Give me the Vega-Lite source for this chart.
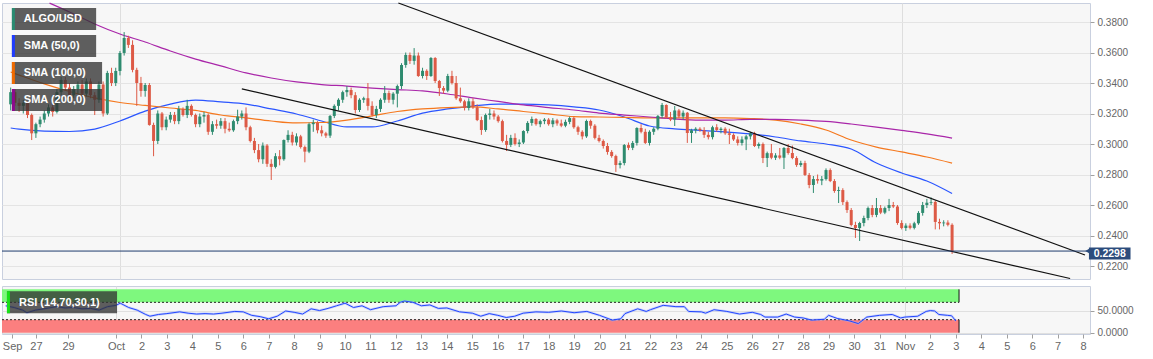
{
"$schema":"https://vega.github.io/schema/vega-lite/v6.json",
"background":"#ffffff",
"padding":0,
"spacing":3,
"config":{"view":{"stroke":"#c9d0df","fill":"#f7f7f7"},"font":"Liberation Sans","axis":{"labelOverlap":false},"concat":{"spacing":3}},
"datasets":{
"candles":[
{"t":"2019-09-26T16:00","o":0.326,"h":0.337,"l":0.322,"c":0.334},
{"t":"2019-09-26T20:00","o":0.334,"h":0.336,"l":0.325,"c":0.327},
{"t":"2019-09-27T00:00","o":0.327,"h":0.33,"l":0.321,"c":0.325},
{"t":"2019-09-27T04:00","o":0.325,"h":0.329,"l":0.32,"c":0.327},
{"t":"2019-09-27T08:00","o":0.327,"h":0.328,"l":0.317,"c":0.319},
{"t":"2019-09-27T12:00","o":0.319,"h":0.32,"l":0.3026,"c":0.307},
{"t":"2019-09-27T16:00","o":0.307,"h":0.314,"l":0.304,"c":0.313},
{"t":"2019-09-27T20:00","o":0.313,"h":0.318,"l":0.311,"c":0.316},
{"t":"2019-09-28T00:00","o":0.316,"h":0.322,"l":0.314,"c":0.32},
{"t":"2019-09-28T04:00","o":0.32,"h":0.326,"l":0.318,"c":0.324},
{"t":"2019-09-28T08:00","o":0.324,"h":0.327,"l":0.318,"c":0.321},
{"t":"2019-09-28T12:00","o":0.321,"h":0.336,"l":0.32,"c":0.334},
{"t":"2019-09-28T16:00","o":0.334,"h":0.344,"l":0.332,"c":0.342},
{"t":"2019-09-28T20:00","o":0.342,"h":0.344,"l":0.335,"c":0.337},
{"t":"2019-09-29T00:00","o":0.337,"h":0.34,"l":0.33,"c":0.332},
{"t":"2019-09-29T04:00","o":0.332,"h":0.338,"l":0.33,"c":0.336},
{"t":"2019-09-29T08:00","o":0.336,"h":0.341,"l":0.333,"c":0.339},
{"t":"2019-09-29T12:00","o":0.339,"h":0.342,"l":0.331,"c":0.333},
{"t":"2019-09-29T16:00","o":0.333,"h":0.343,"l":0.331,"c":0.341},
{"t":"2019-09-29T20:00","o":0.341,"h":0.343,"l":0.33,"c":0.332},
{"t":"2019-09-30T00:00","o":0.332,"h":0.334,"l":0.319,"c":0.329},
{"t":"2019-09-30T04:00","o":0.329,"h":0.341,"l":0.327,"c":0.339},
{"t":"2019-09-30T08:00","o":0.339,"h":0.341,"l":0.318,"c":0.32},
{"t":"2019-09-30T12:00","o":0.32,"h":0.348,"l":0.319,"c":0.3466},
{"t":"2019-09-30T16:00","o":0.3466,"h":0.35,"l":0.338,"c":0.34},
{"t":"2019-09-30T20:00","o":0.34,"h":0.35,"l":0.338,"c":0.3479},
{"t":"2019-10-01T00:00","o":0.3479,"h":0.361,"l":0.345,"c":0.3597},
{"t":"2019-10-01T04:00","o":0.3597,"h":0.3734,"l":0.358,"c":0.3695},
{"t":"2019-10-01T08:00","o":0.3695,"h":0.371,"l":0.363,"c":0.365},
{"t":"2019-10-01T12:00","o":0.365,"h":0.368,"l":0.347,"c":0.3486},
{"t":"2019-10-01T16:00","o":0.3486,"h":0.35,"l":0.325,"c":0.34},
{"t":"2019-10-01T20:00","o":0.34,"h":0.344,"l":0.331,"c":0.3348},
{"t":"2019-10-02T00:00","o":0.3348,"h":0.34,"l":0.331,"c":0.3387},
{"t":"2019-10-02T04:00","o":0.3387,"h":0.34,"l":0.312,"c":0.3125},
{"t":"2019-10-02T08:00","o":0.3125,"h":0.314,"l":0.292,"c":0.302},
{"t":"2019-10-02T12:00","o":0.302,"h":0.322,"l":0.3,"c":0.32},
{"t":"2019-10-02T16:00","o":0.32,"h":0.321,"l":0.309,"c":0.311},
{"t":"2019-10-02T20:00","o":0.311,"h":0.318,"l":0.309,"c":0.316},
{"t":"2019-10-03T00:00","o":0.316,"h":0.321,"l":0.314,"c":0.319},
{"t":"2019-10-03T04:00","o":0.319,"h":0.321,"l":0.313,"c":0.315},
{"t":"2019-10-03T08:00","o":0.315,"h":0.325,"l":0.313,"c":0.323},
{"t":"2019-10-03T12:00","o":0.323,"h":0.324,"l":0.318,"c":0.319},
{"t":"2019-10-03T16:00","o":0.319,"h":0.329,"l":0.317,"c":0.325},
{"t":"2019-10-03T20:00","o":0.325,"h":0.326,"l":0.318,"c":0.319},
{"t":"2019-10-04T00:00","o":0.319,"h":0.32,"l":0.311,"c":0.313},
{"t":"2019-10-04T04:00","o":0.313,"h":0.32,"l":0.311,"c":0.318},
{"t":"2019-10-04T08:00","o":0.318,"h":0.321,"l":0.314,"c":0.319},
{"t":"2019-10-04T12:00","o":0.319,"h":0.32,"l":0.306,"c":0.308},
{"t":"2019-10-04T16:00","o":0.308,"h":0.315,"l":0.306,"c":0.313},
{"t":"2019-10-04T20:00","o":0.313,"h":0.316,"l":0.31,"c":0.312},
{"t":"2019-10-05T00:00","o":0.312,"h":0.317,"l":0.31,"c":0.315},
{"t":"2019-10-05T04:00","o":0.315,"h":0.317,"l":0.307,"c":0.31},
{"t":"2019-10-05T08:00","o":0.31,"h":0.314,"l":0.308,"c":0.309},
{"t":"2019-10-05T12:00","o":0.309,"h":0.316,"l":0.308,"c":0.315},
{"t":"2019-10-05T16:00","o":0.315,"h":0.3225,"l":0.313,"c":0.318},
{"t":"2019-10-05T20:00","o":0.318,"h":0.322,"l":0.316,"c":0.32},
{"t":"2019-10-06T00:00","o":0.32,"h":0.324,"l":0.309,"c":0.311},
{"t":"2019-10-06T04:00","o":0.311,"h":0.312,"l":0.301,"c":0.302},
{"t":"2019-10-06T08:00","o":0.302,"h":0.304,"l":0.294,"c":0.296},
{"t":"2019-10-06T12:00","o":0.296,"h":0.3,"l":0.288,"c":0.29},
{"t":"2019-10-06T16:00","o":0.29,"h":0.301,"l":0.287,"c":0.299},
{"t":"2019-10-06T20:00","o":0.299,"h":0.3,"l":0.285,"c":0.287},
{"t":"2019-10-07T00:00","o":0.287,"h":0.29,"l":0.2764,"c":0.285},
{"t":"2019-10-07T04:00","o":0.285,"h":0.294,"l":0.284,"c":0.292},
{"t":"2019-10-07T08:00","o":0.292,"h":0.296,"l":0.286,"c":0.29},
{"t":"2019-10-07T12:00","o":0.29,"h":0.303,"l":0.289,"c":0.3026},
{"t":"2019-10-07T16:00","o":0.3026,"h":0.309,"l":0.301,"c":0.306},
{"t":"2019-10-07T20:00","o":0.306,"h":0.308,"l":0.299,"c":0.301},
{"t":"2019-10-08T00:00","o":0.301,"h":0.307,"l":0.299,"c":0.305},
{"t":"2019-10-08T04:00","o":0.305,"h":0.306,"l":0.297,"c":0.298},
{"t":"2019-10-08T08:00","o":0.298,"h":0.299,"l":0.288,"c":0.295},
{"t":"2019-10-08T12:00","o":0.295,"h":0.314,"l":0.294,"c":0.313},
{"t":"2019-10-08T16:00","o":0.313,"h":0.316,"l":0.308,"c":0.314},
{"t":"2019-10-08T20:00","o":0.314,"h":0.315,"l":0.307,"c":0.309},
{"t":"2019-10-09T00:00","o":0.309,"h":0.312,"l":0.305,"c":0.307},
{"t":"2019-10-09T04:00","o":0.307,"h":0.308,"l":0.304,"c":0.3055},
{"t":"2019-10-09T08:00","o":0.3055,"h":0.319,"l":0.304,"c":0.3184},
{"t":"2019-10-09T12:00","o":0.3184,"h":0.326,"l":0.317,"c":0.325},
{"t":"2019-10-09T16:00","o":0.325,"h":0.33,"l":0.322,"c":0.329},
{"t":"2019-10-09T20:00","o":0.329,"h":0.335,"l":0.327,"c":0.334},
{"t":"2019-10-10T00:00","o":0.334,"h":0.338,"l":0.331,"c":0.3354},
{"t":"2019-10-10T04:00","o":0.3354,"h":0.337,"l":0.33,"c":0.332},
{"t":"2019-10-10T08:00","o":0.332,"h":0.334,"l":0.32,"c":0.3223},
{"t":"2019-10-10T12:00","o":0.3223,"h":0.33,"l":0.321,"c":0.329},
{"t":"2019-10-10T16:00","o":0.329,"h":0.331,"l":0.327,"c":0.33},
{"t":"2019-10-10T20:00","o":0.33,"h":0.34,"l":0.322,"c":0.325},
{"t":"2019-10-11T00:00","o":0.325,"h":0.328,"l":0.318,"c":0.319},
{"t":"2019-10-11T04:00","o":0.319,"h":0.325,"l":0.317,"c":0.323},
{"t":"2019-10-11T08:00","o":0.323,"h":0.33,"l":0.321,"c":0.329},
{"t":"2019-10-11T12:00","o":0.329,"h":0.338,"l":0.327,"c":0.3334},
{"t":"2019-10-11T16:00","o":0.3334,"h":0.335,"l":0.327,"c":0.329},
{"t":"2019-10-11T20:00","o":0.329,"h":0.334,"l":0.326,"c":0.333},
{"t":"2019-10-12T00:00","o":0.333,"h":0.339,"l":0.324,"c":0.338},
{"t":"2019-10-12T04:00","o":0.338,"h":0.353,"l":0.336,"c":0.3518},
{"t":"2019-10-12T08:00","o":0.3518,"h":0.36,"l":0.35,"c":0.3584},
{"t":"2019-10-12T12:00","o":0.3584,"h":0.36,"l":0.3525,"c":0.3545},
{"t":"2019-10-12T16:00","o":0.3545,"h":0.3629,"l":0.352,"c":0.358},
{"t":"2019-10-12T20:00","o":0.358,"h":0.36,"l":0.344,"c":0.3446},
{"t":"2019-10-13T00:00","o":0.3446,"h":0.35,"l":0.343,"c":0.348},
{"t":"2019-10-13T04:00","o":0.348,"h":0.349,"l":0.342,"c":0.3446},
{"t":"2019-10-13T08:00","o":0.3446,"h":0.357,"l":0.344,"c":0.3564},
{"t":"2019-10-13T12:00","o":0.3564,"h":0.357,"l":0.34,"c":0.3413},
{"t":"2019-10-13T16:00","o":0.3413,"h":0.342,"l":0.3315,"c":0.3367},
{"t":"2019-10-13T20:00","o":0.3367,"h":0.338,"l":0.333,"c":0.335},
{"t":"2019-10-14T00:00","o":0.335,"h":0.346,"l":0.334,"c":0.3446},
{"t":"2019-10-14T04:00","o":0.3446,"h":0.348,"l":0.339,"c":0.34},
{"t":"2019-10-14T08:00","o":0.34,"h":0.3446,"l":0.329,"c":0.33},
{"t":"2019-10-14T12:00","o":0.33,"h":0.337,"l":0.327,"c":0.328},
{"t":"2019-10-14T16:00","o":0.328,"h":0.329,"l":0.322,"c":0.3236},
{"t":"2019-10-14T20:00","o":0.3236,"h":0.33,"l":0.322,"c":0.328},
{"t":"2019-10-15T00:00","o":0.328,"h":0.33,"l":0.323,"c":0.324},
{"t":"2019-10-15T04:00","o":0.324,"h":0.326,"l":0.315,"c":0.3157},
{"t":"2019-10-15T08:00","o":0.3157,"h":0.318,"l":0.306,"c":0.3092},
{"t":"2019-10-15T12:00","o":0.3092,"h":0.32,"l":0.308,"c":0.319},
{"t":"2019-10-15T16:00","o":0.319,"h":0.323,"l":0.316,"c":0.32},
{"t":"2019-10-15T20:00","o":0.32,"h":0.322,"l":0.316,"c":0.318},
{"t":"2019-10-16T00:00","o":0.318,"h":0.319,"l":0.314,"c":0.315},
{"t":"2019-10-16T04:00","o":0.315,"h":0.316,"l":0.301,"c":0.302},
{"t":"2019-10-16T08:00","o":0.302,"h":0.306,"l":0.2954,"c":0.2994},
{"t":"2019-10-16T12:00","o":0.2994,"h":0.306,"l":0.298,"c":0.304},
{"t":"2019-10-16T16:00","o":0.304,"h":0.307,"l":0.299,"c":0.3},
{"t":"2019-10-16T20:00","o":0.3,"h":0.303,"l":0.298,"c":0.301},
{"t":"2019-10-17T00:00","o":0.301,"h":0.309,"l":0.3,"c":0.3085},
{"t":"2019-10-17T04:00","o":0.3085,"h":0.315,"l":0.307,"c":0.3138},
{"t":"2019-10-17T08:00","o":0.3138,"h":0.318,"l":0.312,"c":0.3164},
{"t":"2019-10-17T12:00","o":0.3164,"h":0.317,"l":0.312,"c":0.313},
{"t":"2019-10-17T16:00","o":0.313,"h":0.316,"l":0.311,"c":0.315},
{"t":"2019-10-17T20:00","o":0.315,"h":0.317,"l":0.313,"c":0.316},
{"t":"2019-10-18T00:00","o":0.316,"h":0.317,"l":0.312,"c":0.313},
{"t":"2019-10-18T04:00","o":0.313,"h":0.317,"l":0.311,"c":0.3155},
{"t":"2019-10-18T08:00","o":0.3155,"h":0.3165,"l":0.312,"c":0.3135},
{"t":"2019-10-18T12:00","o":0.3135,"h":0.316,"l":0.311,"c":0.312},
{"t":"2019-10-18T16:00","o":0.312,"h":0.316,"l":0.311,"c":0.3145},
{"t":"2019-10-18T20:00","o":0.3145,"h":0.318,"l":0.313,"c":0.317},
{"t":"2019-10-19T00:00","o":0.317,"h":0.318,"l":0.31,"c":0.311},
{"t":"2019-10-19T04:00","o":0.311,"h":0.312,"l":0.306,"c":0.308},
{"t":"2019-10-19T08:00","o":0.308,"h":0.309,"l":0.303,"c":0.305},
{"t":"2019-10-19T12:00","o":0.305,"h":0.316,"l":0.304,"c":0.3151},
{"t":"2019-10-19T16:00","o":0.3151,"h":0.316,"l":0.31,"c":0.312},
{"t":"2019-10-19T20:00","o":0.312,"h":0.313,"l":0.303,"c":0.304},
{"t":"2019-10-20T00:00","o":0.304,"h":0.306,"l":0.301,"c":0.302},
{"t":"2019-10-20T04:00","o":0.302,"h":0.303,"l":0.297,"c":0.2987},
{"t":"2019-10-20T08:00","o":0.2987,"h":0.3007,"l":0.293,"c":0.2948},
{"t":"2019-10-20T12:00","o":0.2948,"h":0.296,"l":0.291,"c":0.2921},
{"t":"2019-10-20T16:00","o":0.2921,"h":0.293,"l":0.2817,"c":0.2862},
{"t":"2019-10-20T20:00","o":0.2862,"h":0.289,"l":0.284,"c":0.2875},
{"t":"2019-10-21T00:00","o":0.2875,"h":0.3,"l":0.286,"c":0.2993},
{"t":"2019-10-21T04:00","o":0.2993,"h":0.301,"l":0.296,"c":0.2975},
{"t":"2019-10-21T08:00","o":0.2975,"h":0.302,"l":0.296,"c":0.3007},
{"t":"2019-10-21T12:00","o":0.3007,"h":0.311,"l":0.299,"c":0.3105},
{"t":"2019-10-21T16:00","o":0.3105,"h":0.313,"l":0.307,"c":0.308},
{"t":"2019-10-21T20:00","o":0.308,"h":0.31,"l":0.3,"c":0.3007},
{"t":"2019-10-22T00:00","o":0.3007,"h":0.309,"l":0.299,"c":0.308},
{"t":"2019-10-22T04:00","o":0.308,"h":0.311,"l":0.306,"c":0.31},
{"t":"2019-10-22T08:00","o":0.31,"h":0.319,"l":0.309,"c":0.3184},
{"t":"2019-10-22T12:00","o":0.3184,"h":0.3269,"l":0.317,"c":0.3256},
{"t":"2019-10-22T16:00","o":0.3256,"h":0.326,"l":0.3165,"c":0.3175},
{"t":"2019-10-22T20:00","o":0.3175,"h":0.321,"l":0.315,"c":0.316},
{"t":"2019-10-23T00:00","o":0.316,"h":0.3249,"l":0.3118,"c":0.322},
{"t":"2019-10-23T04:00","o":0.322,"h":0.323,"l":0.317,"c":0.318},
{"t":"2019-10-23T08:00","o":0.318,"h":0.322,"l":0.316,"c":0.3205},
{"t":"2019-10-23T12:00","o":0.3205,"h":0.321,"l":0.3007,"c":0.3072},
{"t":"2019-10-23T16:00","o":0.3072,"h":0.31,"l":0.3007,"c":0.309},
{"t":"2019-10-23T20:00","o":0.309,"h":0.311,"l":0.307,"c":0.31},
{"t":"2019-10-24T00:00","o":0.31,"h":0.311,"l":0.308,"c":0.309},
{"t":"2019-10-24T04:00","o":0.309,"h":0.311,"l":0.304,"c":0.306},
{"t":"2019-10-24T08:00","o":0.306,"h":0.308,"l":0.303,"c":0.3045},
{"t":"2019-10-24T12:00","o":0.3045,"h":0.312,"l":0.303,"c":0.311},
{"t":"2019-10-24T16:00","o":0.311,"h":0.313,"l":0.308,"c":0.3092},
{"t":"2019-10-24T20:00","o":0.3092,"h":0.311,"l":0.307,"c":0.31},
{"t":"2019-10-25T00:00","o":0.31,"h":0.311,"l":0.306,"c":0.307},
{"t":"2019-10-25T04:00","o":0.307,"h":0.31,"l":0.3,"c":0.306},
{"t":"2019-10-25T08:00","o":0.306,"h":0.307,"l":0.302,"c":0.303},
{"t":"2019-10-25T12:00","o":0.303,"h":0.305,"l":0.299,"c":0.3007},
{"t":"2019-10-25T16:00","o":0.3007,"h":0.305,"l":0.299,"c":0.303},
{"t":"2019-10-25T20:00","o":0.303,"h":0.306,"l":0.296,"c":0.305},
{"t":"2019-10-26T00:00","o":0.305,"h":0.308,"l":0.303,"c":0.307},
{"t":"2019-10-26T04:00","o":0.307,"h":0.308,"l":0.298,"c":0.2987},
{"t":"2019-10-26T08:00","o":0.2987,"h":0.301,"l":0.297,"c":0.3},
{"t":"2019-10-26T12:00","o":0.3,"h":0.301,"l":0.2875,"c":0.2908},
{"t":"2019-10-26T16:00","o":0.2908,"h":0.295,"l":0.2849,"c":0.294},
{"t":"2019-10-26T20:00","o":0.294,"h":0.3,"l":0.29,"c":0.291},
{"t":"2019-10-27T00:00","o":0.291,"h":0.294,"l":0.2895,"c":0.2925},
{"t":"2019-10-27T04:00","o":0.2925,"h":0.2974,"l":0.29,"c":0.291},
{"t":"2019-10-27T08:00","o":0.291,"h":0.298,"l":0.2836,"c":0.2974},
{"t":"2019-10-27T12:00","o":0.2974,"h":0.3,"l":0.293,"c":0.2941},
{"t":"2019-10-27T16:00","o":0.2941,"h":0.299,"l":0.29,"c":0.2908},
{"t":"2019-10-27T20:00","o":0.2908,"h":0.292,"l":0.285,"c":0.2862},
{"t":"2019-10-28T00:00","o":0.2862,"h":0.289,"l":0.285,"c":0.2875},
{"t":"2019-10-28T04:00","o":0.2875,"h":0.289,"l":0.279,"c":0.2797},
{"t":"2019-10-28T08:00","o":0.2797,"h":0.281,"l":0.271,"c":0.2731},
{"t":"2019-10-28T12:00","o":0.2731,"h":0.279,"l":0.2679,"c":0.277},
{"t":"2019-10-28T16:00","o":0.277,"h":0.28,"l":0.274,"c":0.276},
{"t":"2019-10-28T20:00","o":0.276,"h":0.279,"l":0.273,"c":0.277},
{"t":"2019-10-29T00:00","o":0.277,"h":0.284,"l":0.276,"c":0.2829},
{"t":"2019-10-29T04:00","o":0.2829,"h":0.284,"l":0.275,"c":0.2757},
{"t":"2019-10-29T08:00","o":0.2757,"h":0.277,"l":0.268,"c":0.2692},
{"t":"2019-10-29T12:00","o":0.2692,"h":0.272,"l":0.2613,"c":0.2698},
{"t":"2019-10-29T16:00","o":0.2698,"h":0.271,"l":0.26,"c":0.2619},
{"t":"2019-10-29T20:00","o":0.2619,"h":0.263,"l":0.2548,"c":0.2567},
{"t":"2019-10-30T00:00","o":0.2567,"h":0.258,"l":0.246,"c":0.2469},
{"t":"2019-10-30T04:00","o":0.2469,"h":0.249,"l":0.2384,"c":0.2449},
{"t":"2019-10-30T08:00","o":0.2449,"h":0.249,"l":0.2364,"c":0.2482},
{"t":"2019-10-30T12:00","o":0.2482,"h":0.253,"l":0.246,"c":0.2515},
{"t":"2019-10-30T16:00","o":0.2515,"h":0.259,"l":0.25,"c":0.258},
{"t":"2019-10-30T20:00","o":0.258,"h":0.26,"l":0.252,"c":0.2535},
{"t":"2019-10-31T00:00","o":0.2535,"h":0.2646,"l":0.252,"c":0.258},
{"t":"2019-10-31T04:00","o":0.258,"h":0.26,"l":0.254,"c":0.255},
{"t":"2019-10-31T08:00","o":0.255,"h":0.259,"l":0.254,"c":0.258},
{"t":"2019-10-31T12:00","o":0.258,"h":0.264,"l":0.256,"c":0.26},
{"t":"2019-10-31T16:00","o":0.26,"h":0.262,"l":0.258,"c":0.259},
{"t":"2019-10-31T20:00","o":0.259,"h":0.26,"l":0.247,"c":0.2482},
{"t":"2019-11-01T00:00","o":0.2482,"h":0.25,"l":0.244,"c":0.2449},
{"t":"2019-11-01T04:00","o":0.2449,"h":0.248,"l":0.243,"c":0.2465},
{"t":"2019-11-01T08:00","o":0.2465,"h":0.248,"l":0.244,"c":0.245},
{"t":"2019-11-01T12:00","o":0.245,"h":0.249,"l":0.244,"c":0.248},
{"t":"2019-11-01T16:00","o":0.248,"h":0.256,"l":0.247,"c":0.2548},
{"t":"2019-11-01T20:00","o":0.2548,"h":0.262,"l":0.253,"c":0.26},
{"t":"2019-11-02T00:00","o":0.26,"h":0.264,"l":0.258,"c":0.2615},
{"t":"2019-11-02T04:00","o":0.2615,"h":0.265,"l":0.26,"c":0.262},
{"t":"2019-11-02T08:00","o":0.262,"h":0.263,"l":0.244,"c":0.2489},
{"t":"2019-11-02T12:00","o":0.2489,"h":0.251,"l":0.244,"c":0.248},
{"t":"2019-11-02T16:00","o":0.248,"h":0.25,"l":0.246,"c":0.2485},
{"t":"2019-11-02T20:00","o":0.2485,"h":0.25,"l":0.246,"c":0.247},
{"t":"2019-11-03T00:00","o":0.247,"h":0.248,"l":0.2279,"c":0.2298}
],
"sma":[
{"s":"SMA (50,0)","t":"2019-09-26T16:00","v":0.3105},
{"s":"SMA (50,0)","t":"2019-09-27T00:00","v":0.3098},
{"s":"SMA (50,0)","t":"2019-09-28T00:00","v":0.3085},
{"s":"SMA (50,0)","t":"2019-09-29T00:00","v":0.3082},
{"s":"SMA (50,0)","t":"2019-09-30T00:00","v":0.3098},
{"s":"SMA (50,0)","t":"2019-10-01T00:00","v":0.3151},
{"s":"SMA (50,0)","t":"2019-10-02T00:00","v":0.3216},
{"s":"SMA (50,0)","t":"2019-10-03T00:00","v":0.3262},
{"s":"SMA (50,0)","t":"2019-10-04T00:00","v":0.3288},
{"s":"SMA (50,0)","t":"2019-10-05T00:00","v":0.3276},
{"s":"SMA (50,0)","t":"2019-10-06T00:00","v":0.3262},
{"s":"SMA (50,0)","t":"2019-10-07T00:00","v":0.323},
{"s":"SMA (50,0)","t":"2019-10-08T00:00","v":0.3197},
{"s":"SMA (50,0)","t":"2019-10-09T00:00","v":0.3151},
{"s":"SMA (50,0)","t":"2019-10-10T00:00","v":0.3112},
{"s":"SMA (50,0)","t":"2019-10-11T00:00","v":0.3112},
{"s":"SMA (50,0)","t":"2019-10-12T00:00","v":0.3151},
{"s":"SMA (50,0)","t":"2019-10-13T00:00","v":0.3203},
{"s":"SMA (50,0)","t":"2019-10-14T00:00","v":0.323},
{"s":"SMA (50,0)","t":"2019-10-15T00:00","v":0.3249},
{"s":"SMA (50,0)","t":"2019-10-16T00:00","v":0.3262},
{"s":"SMA (50,0)","t":"2019-10-17T00:00","v":0.3262},
{"s":"SMA (50,0)","t":"2019-10-18T00:00","v":0.3256},
{"s":"SMA (50,0)","t":"2019-10-19T00:00","v":0.3243},
{"s":"SMA (50,0)","t":"2019-10-20T00:00","v":0.3223},
{"s":"SMA (50,0)","t":"2019-10-21T00:00","v":0.3177},
{"s":"SMA (50,0)","t":"2019-10-22T00:00","v":0.3118},
{"s":"SMA (50,0)","t":"2019-10-23T00:00","v":0.3099},
{"s":"SMA (50,0)","t":"2019-10-24T00:00","v":0.3089},
{"s":"SMA (50,0)","t":"2019-10-25T00:00","v":0.3079},
{"s":"SMA (50,0)","t":"2019-10-26T00:00","v":0.3066},
{"s":"SMA (50,0)","t":"2019-10-27T00:00","v":0.3046},
{"s":"SMA (50,0)","t":"2019-10-28T00:00","v":0.302},
{"s":"SMA (50,0)","t":"2019-10-29T00:00","v":0.3},
{"s":"SMA (50,0)","t":"2019-10-30T00:00","v":0.2967},
{"s":"SMA (50,0)","t":"2019-10-31T00:00","v":0.2875},
{"s":"SMA (50,0)","t":"2019-11-01T00:00","v":0.281},
{"s":"SMA (50,0)","t":"2019-11-02T00:00","v":0.2757},
{"s":"SMA (50,0)","t":"2019-11-03T00:00","v":0.2675},
{"s":"SMA (100,0)","t":"2019-09-26T16:00","v":0.3472},
{"s":"SMA (100,0)","t":"2019-09-27T00:00","v":0.3452},
{"s":"SMA (100,0)","t":"2019-09-28T00:00","v":0.3394},
{"s":"SMA (100,0)","t":"2019-09-29T00:00","v":0.3344},
{"s":"SMA (100,0)","t":"2019-09-30T00:00","v":0.3302},
{"s":"SMA (100,0)","t":"2019-10-01T00:00","v":0.3272},
{"s":"SMA (100,0)","t":"2019-10-02T00:00","v":0.3253},
{"s":"SMA (100,0)","t":"2019-10-03T00:00","v":0.3236},
{"s":"SMA (100,0)","t":"2019-10-04T00:00","v":0.322},
{"s":"SMA (100,0)","t":"2019-10-05T00:00","v":0.319},
{"s":"SMA (100,0)","t":"2019-10-06T00:00","v":0.3171},
{"s":"SMA (100,0)","t":"2019-10-07T00:00","v":0.3151},
{"s":"SMA (100,0)","t":"2019-10-08T00:00","v":0.3138},
{"s":"SMA (100,0)","t":"2019-10-09T00:00","v":0.3141},
{"s":"SMA (100,0)","t":"2019-10-10T00:00","v":0.3157},
{"s":"SMA (100,0)","t":"2019-10-11T00:00","v":0.3184},
{"s":"SMA (100,0)","t":"2019-10-12T00:00","v":0.3213},
{"s":"SMA (100,0)","t":"2019-10-13T00:00","v":0.323},
{"s":"SMA (100,0)","t":"2019-10-14T00:00","v":0.3239},
{"s":"SMA (100,0)","t":"2019-10-15T00:00","v":0.3243},
{"s":"SMA (100,0)","t":"2019-10-16T00:00","v":0.323},
{"s":"SMA (100,0)","t":"2019-10-17T00:00","v":0.3213},
{"s":"SMA (100,0)","t":"2019-10-18T00:00","v":0.3197},
{"s":"SMA (100,0)","t":"2019-10-19T00:00","v":0.318},
{"s":"SMA (100,0)","t":"2019-10-20T00:00","v":0.3177},
{"s":"SMA (100,0)","t":"2019-10-21T00:00","v":0.3174},
{"s":"SMA (100,0)","t":"2019-10-22T00:00","v":0.3171},
{"s":"SMA (100,0)","t":"2019-10-23T00:00","v":0.3171},
{"s":"SMA (100,0)","t":"2019-10-24T00:00","v":0.3171},
{"s":"SMA (100,0)","t":"2019-10-25T00:00","v":0.3171},
{"s":"SMA (100,0)","t":"2019-10-26T00:00","v":0.3167},
{"s":"SMA (100,0)","t":"2019-10-27T00:00","v":0.3157},
{"s":"SMA (100,0)","t":"2019-10-28T00:00","v":0.3131},
{"s":"SMA (100,0)","t":"2019-10-29T00:00","v":0.3092},
{"s":"SMA (100,0)","t":"2019-10-30T00:00","v":0.3026},
{"s":"SMA (100,0)","t":"2019-10-31T00:00","v":0.298},
{"s":"SMA (100,0)","t":"2019-11-01T00:00","v":0.2948},
{"s":"SMA (100,0)","t":"2019-11-02T00:00","v":0.2915},
{"s":"SMA (100,0)","t":"2019-11-03T00:00","v":0.2875},
{"s":"SMA (200,0)","t":"2019-09-28T05:00","v":0.3924},
{"s":"SMA (200,0)","t":"2019-09-29T00:00","v":0.3866},
{"s":"SMA (200,0)","t":"2019-09-30T00:00","v":0.3787},
{"s":"SMA (200,0)","t":"2019-10-01T00:00","v":0.3721},
{"s":"SMA (200,0)","t":"2019-10-02T00:00","v":0.3669},
{"s":"SMA (200,0)","t":"2019-10-03T00:00","v":0.361},
{"s":"SMA (200,0)","t":"2019-10-04T00:00","v":0.3557},
{"s":"SMA (200,0)","t":"2019-10-05T00:00","v":0.3512},
{"s":"SMA (200,0)","t":"2019-10-06T00:00","v":0.3466},
{"s":"SMA (200,0)","t":"2019-10-07T00:00","v":0.3433},
{"s":"SMA (200,0)","t":"2019-10-08T00:00","v":0.3407},
{"s":"SMA (200,0)","t":"2019-10-09T00:00","v":0.339},
{"s":"SMA (200,0)","t":"2019-10-10T00:00","v":0.338},
{"s":"SMA (200,0)","t":"2019-10-11T00:00","v":0.3367},
{"s":"SMA (200,0)","t":"2019-10-12T00:00","v":0.3357},
{"s":"SMA (200,0)","t":"2019-10-13T00:00","v":0.3348},
{"s":"SMA (200,0)","t":"2019-10-14T00:00","v":0.3328},
{"s":"SMA (200,0)","t":"2019-10-15T00:00","v":0.3302},
{"s":"SMA (200,0)","t":"2019-10-16T00:00","v":0.3279},
{"s":"SMA (200,0)","t":"2019-10-17T00:00","v":0.3256},
{"s":"SMA (200,0)","t":"2019-10-18T00:00","v":0.3239},
{"s":"SMA (200,0)","t":"2019-10-19T00:00","v":0.3223},
{"s":"SMA (200,0)","t":"2019-10-20T00:00","v":0.3203},
{"s":"SMA (200,0)","t":"2019-10-21T00:00","v":0.319},
{"s":"SMA (200,0)","t":"2019-10-22T00:00","v":0.3177},
{"s":"SMA (200,0)","t":"2019-10-23T00:00","v":0.3164},
{"s":"SMA (200,0)","t":"2019-10-24T00:00","v":0.3157},
{"s":"SMA (200,0)","t":"2019-10-25T00:00","v":0.3157},
{"s":"SMA (200,0)","t":"2019-10-26T00:00","v":0.3161},
{"s":"SMA (200,0)","t":"2019-10-27T00:00","v":0.3161},
{"s":"SMA (200,0)","t":"2019-10-28T00:00","v":0.3157},
{"s":"SMA (200,0)","t":"2019-10-29T00:00","v":0.3148},
{"s":"SMA (200,0)","t":"2019-10-30T00:00","v":0.3131},
{"s":"SMA (200,0)","t":"2019-10-31T00:00","v":0.3111},
{"s":"SMA (200,0)","t":"2019-11-01T00:00","v":0.3089},
{"s":"SMA (200,0)","t":"2019-11-02T00:00","v":0.3066},
{"s":"SMA (200,0)","t":"2019-11-03T00:00","v":0.3039}
],
"trend":[
{"line":"upper","t":"2019-10-12T01:00","p":0.3925},
{"line":"upper","t":"2019-11-08T06:30","p":0.2272},
{"line":"lower","t":"2019-10-05T20:00","p":0.3361},
{"line":"lower","t":"2019-11-07T16:20","p":0.2118}
],
"rsi":[
{"t":"2019-09-26T16:00","r":62},{"t":"2019-09-26T20:00","r":60},{"t":"2019-09-27T00:00","r":58},{"t":"2019-09-27T08:00","r":52},
{"t":"2019-09-27T12:00","r":46},{"t":"2019-09-27T20:00","r":52},{"t":"2019-09-28T04:00","r":55},{"t":"2019-09-28T16:00","r":60},
{"t":"2019-09-29T00:00","r":57},{"t":"2019-09-29T08:00","r":58},{"t":"2019-09-29T16:00","r":55},{"t":"2019-09-30T00:00","r":56},
{"t":"2019-09-30T08:00","r":52},{"t":"2019-09-30T16:00","r":60},{"t":"2019-10-01T00:00","r":63},{"t":"2019-10-01T04:00","r":68},
{"t":"2019-10-01T12:00","r":58},{"t":"2019-10-01T20:00","r":52},{"t":"2019-10-02T04:00","r":42},{"t":"2019-10-02T08:00","r":38},
{"t":"2019-10-02T16:00","r":42},{"t":"2019-10-03T00:00","r":44},{"t":"2019-10-03T12:00","r":48},{"t":"2019-10-03T20:00","r":45},
{"t":"2019-10-04T04:00","r":43},{"t":"2019-10-04T12:00","r":44},{"t":"2019-10-04T20:00","r":43},{"t":"2019-10-05T04:00","r":45},
{"t":"2019-10-05T16:00","r":49},{"t":"2019-10-06T00:00","r":48},{"t":"2019-10-06T08:00","r":40},{"t":"2019-10-06T16:00","r":37},
{"t":"2019-10-07T00:00","r":32},{"t":"2019-10-07T08:00","r":38},{"t":"2019-10-07T16:00","r":50},{"t":"2019-10-08T00:00","r":47},
{"t":"2019-10-08T08:00","r":43},{"t":"2019-10-08T16:00","r":55},{"t":"2019-10-09T00:00","r":51},{"t":"2019-10-09T08:00","r":56},
{"t":"2019-10-09T16:00","r":62},{"t":"2019-10-10T00:00","r":68},{"t":"2019-10-10T08:00","r":58},{"t":"2019-10-10T16:00","r":62},
{"t":"2019-10-11T00:00","r":53},{"t":"2019-10-11T12:00","r":60},{"t":"2019-10-12T00:00","r":62},{"t":"2019-10-12T04:00","r":70},
{"t":"2019-10-12T08:00","r":73},{"t":"2019-10-12T16:00","r":70},{"t":"2019-10-13T00:00","r":62},{"t":"2019-10-13T08:00","r":64},
{"t":"2019-10-13T16:00","r":56},{"t":"2019-10-14T00:00","r":57},{"t":"2019-10-14T12:00","r":48},{"t":"2019-10-15T00:00","r":45},
{"t":"2019-10-15T08:00","r":38},{"t":"2019-10-15T16:00","r":44},{"t":"2019-10-16T00:00","r":40},{"t":"2019-10-16T08:00","r":35},
{"t":"2019-10-16T16:00","r":38},{"t":"2019-10-17T00:00","r":45},{"t":"2019-10-17T12:00","r":48},{"t":"2019-10-18T00:00","r":47},
{"t":"2019-10-18T12:00","r":50},{"t":"2019-10-19T00:00","r":46},{"t":"2019-10-19T12:00","r":49},{"t":"2019-10-20T00:00","r":40},
{"t":"2019-10-20T12:00","r":29},{"t":"2019-10-20T20:00","r":32},{"t":"2019-10-21T00:00","r":44},{"t":"2019-10-21T12:00","r":55},
{"t":"2019-10-21T20:00","r":49},{"t":"2019-10-22T00:00","r":53},{"t":"2019-10-22T12:00","r":63},{"t":"2019-10-23T00:00","r":60},
{"t":"2019-10-23T08:00","r":60},{"t":"2019-10-23T12:00","r":49},{"t":"2019-10-24T00:00","r":48},{"t":"2019-10-24T04:00","r":45},
{"t":"2019-10-24T12:00","r":53},{"t":"2019-10-25T00:00","r":49},{"t":"2019-10-25T12:00","r":43},{"t":"2019-10-26T00:00","r":47},
{"t":"2019-10-26T08:00","r":42},{"t":"2019-10-26T12:00","r":36},{"t":"2019-10-27T00:00","r":36},{"t":"2019-10-27T08:00","r":43},
{"t":"2019-10-27T16:00","r":36},{"t":"2019-10-28T00:00","r":34},{"t":"2019-10-28T08:00","r":29},{"t":"2019-10-28T20:00","r":31},
{"t":"2019-10-29T00:00","r":40},{"t":"2019-10-29T08:00","r":33},{"t":"2019-10-29T20:00","r":27},{"t":"2019-10-30T04:00","r":21},
{"t":"2019-10-30T12:00","r":36},{"t":"2019-10-31T00:00","r":40},{"t":"2019-10-31T12:00","r":42},{"t":"2019-10-31T20:00","r":34},
{"t":"2019-11-01T00:00","r":36},{"t":"2019-11-01T12:00","r":38},{"t":"2019-11-01T20:00","r":49},{"t":"2019-11-02T00:00","r":51},
{"t":"2019-11-02T04:00","r":50},{"t":"2019-11-02T08:00","r":42},{"t":"2019-11-02T16:00","r":40},{"t":"2019-11-02T20:00","r":39},
{"t":"2019-11-03T00:00","r":27}
]
},
"vconcat":[
{
"width":1088,"height":276,
"layer":[
{"data":{"name":"sma"},
 "mark":{"type":"line","strokeWidth":1.2,"interpolate":"monotone"},
 "encoding":{
  "x":{"field":"t","type":"temporal","title":null,
   "scale":{"domain":[{"year":2019,"month":9,"date":26,"hours":12,"minutes":30},{"year":2019,"month":11,"date":8,"hours":6,"minutes":30}]},
   "axis":{"values":[{"year":2019,"month":10,"date":1},{"year":2019,"month":11,"date":1}],"tickCount":50,"labels":false,"ticks":false,"domain":false,"grid":true,"gridColor":"#dedede","title":null,"minExtent":0,"maxExtent":0}},
  "y":{"field":"v","type":"quantitative","title":null,
   "scale":{"domain":[0.21148,0.39246],"nice":false,"zero":false},
   "axis":{"orient":"right","values":[0.22,0.24,0.26,0.28,0.3,0.32,0.34,0.36,0.38],"tickCount":50,"format":".4f","grid":true,"gridColor":"#e4e4e4","domain":false,"tickSize":4,"tickColor":"#a0a0a0","labelColor":"#666666","labelFontSize":10,"labelPadding":3,"labelOverlap":false,"title":null}},
  "color":{"field":"s","type":"nominal","legend":null,
   "scale":{"domain":["SMA (50,0)","SMA (100,0)","SMA (200,0)"],"range":["#2a55ff","#f5781e","#a926a9"]}}
 }},
{"data":{"name":"candles"},
 "mark":{"type":"rule","strokeWidth":1},
 "encoding":{
  "x":{"field":"t","type":"temporal","title":null},
  "y":{"field":"l","type":"quantitative","title":null},
  "y2":{"field":"h"},
  "color":{"condition":{"test":"datum.c >= datum.o","value":"#2e8b6f"},"value":"#dd5a46"}
 }},
{"data":{"name":"candles"},
 "mark":{"type":"bar","width":3},
 "encoding":{
  "x":{"field":"t","type":"temporal","title":null},
  "y":{"field":"o","type":"quantitative","title":null},
  "y2":{"field":"c"},
  "color":{"condition":{"test":"datum.c >= datum.o","value":"#2e8b6f"},"value":"#dd5a46"}
 }},
{"data":{"name":"trend"},
 "mark":{"type":"line","color":"#111111","strokeWidth":1.2},
 "encoding":{
  "x":{"field":"t","type":"temporal","title":null},
  "y":{"field":"p","type":"quantitative","title":null},
  "detail":{"field":"line"}
 }},
{"data":{"values":[{}]},
 "mark":{"type":"rule","color":"#1f3c6e","strokeWidth":1},
 "encoding":{"y":{"datum":0.2298,"type":"quantitative","title":null}}},
{"data":{"values":[{}]},"mark":{"type":"rect","fill":"#333333","opacity":0.78},
 "encoding":{"x":{"datum":{"year":2019,"month":9,"date":26,"hours":17,"minutes":10},"type":"temporal","title":null},"x2":{"datum":{"year":2019,"month":9,"date":30,"hours":1,"minutes":20}},
  "y":{"datum":0.38918,"type":"quantitative","title":null},"y2":{"datum":0.37475}}},
{"data":{"values":[{}]},"mark":{"type":"rect","fill":"#2a8c72"},
 "encoding":{"x":{"datum":{"year":2019,"month":9,"date":26,"hours":17,"minutes":10},"type":"temporal","title":null},"x2":{"datum":{"year":2019,"month":9,"date":26,"hours":20}},
  "y":{"datum":0.38918,"type":"quantitative","title":null},"y2":{"datum":0.37475}}},
{"data":{"values":[{}]},"mark":{"type":"text","text":"ALGO/USD","fill":"#ffffff","fontWeight":"bold","fontSize":11,"align":"left","baseline":"middle"},
 "encoding":{"x":{"datum":{"year":2019,"month":9,"date":27,"hours":4,"minutes":30},"type":"temporal","title":null},"y":{"datum":0.38197,"type":"quantitative","title":null}}},
{"data":{"values":[{}]},"mark":{"type":"rect","fill":"#333333","opacity":0.78},
 "encoding":{"x":{"datum":{"year":2019,"month":9,"date":26,"hours":17,"minutes":10},"type":"temporal","title":null},"x2":{"datum":{"year":2019,"month":9,"date":30,"hours":1,"minutes":20}},
  "y":{"datum":0.37148,"type":"quantitative","title":null},"y2":{"datum":0.35705}}},
{"data":{"values":[{}]},"mark":{"type":"rect","fill":"#1f3cff"},
 "encoding":{"x":{"datum":{"year":2019,"month":9,"date":26,"hours":17,"minutes":10},"type":"temporal","title":null},"x2":{"datum":{"year":2019,"month":9,"date":26,"hours":20}},
  "y":{"datum":0.37148,"type":"quantitative","title":null},"y2":{"datum":0.35705}}},
{"data":{"values":[{}]},"mark":{"type":"text","text":"SMA (50,0)","fill":"#ffffff","fontWeight":"bold","fontSize":11,"align":"left","baseline":"middle"},
 "encoding":{"x":{"datum":{"year":2019,"month":9,"date":27,"hours":4,"minutes":30},"type":"temporal","title":null},"y":{"datum":0.36426,"type":"quantitative","title":null}}},
{"data":{"values":[{}]},"mark":{"type":"rect","fill":"#333333","opacity":0.78},
 "encoding":{"x":{"datum":{"year":2019,"month":9,"date":26,"hours":17,"minutes":10},"type":"temporal","title":null},"x2":{"datum":{"year":2019,"month":9,"date":30,"hours":7}},
  "y":{"datum":0.35377,"type":"quantitative","title":null},"y2":{"datum":0.33935}}},
{"data":{"values":[{}]},"mark":{"type":"rect","fill":"#f06a00"},
 "encoding":{"x":{"datum":{"year":2019,"month":9,"date":26,"hours":17,"minutes":10},"type":"temporal","title":null},"x2":{"datum":{"year":2019,"month":9,"date":26,"hours":20}},
  "y":{"datum":0.35377,"type":"quantitative","title":null},"y2":{"datum":0.33935}}},
{"data":{"values":[{}]},"mark":{"type":"text","text":"SMA (100,0)","fill":"#ffffff","fontWeight":"bold","fontSize":11,"align":"left","baseline":"middle"},
 "encoding":{"x":{"datum":{"year":2019,"month":9,"date":27,"hours":4,"minutes":30},"type":"temporal","title":null},"y":{"datum":0.34656,"type":"quantitative","title":null}}},
{"data":{"values":[{}]},"mark":{"type":"rect","fill":"#333333","opacity":0.78},
 "encoding":{"x":{"datum":{"year":2019,"month":9,"date":26,"hours":17,"minutes":10},"type":"temporal","title":null},"x2":{"datum":{"year":2019,"month":9,"date":30,"hours":7}},
  "y":{"datum":0.33607,"type":"quantitative","title":null},"y2":{"datum":0.32164}}},
{"data":{"values":[{}]},"mark":{"type":"rect","fill":"#8e0a8e"},
 "encoding":{"x":{"datum":{"year":2019,"month":9,"date":26,"hours":17,"minutes":10},"type":"temporal","title":null},"x2":{"datum":{"year":2019,"month":9,"date":26,"hours":20}},
  "y":{"datum":0.33607,"type":"quantitative","title":null},"y2":{"datum":0.32164}}},
{"data":{"values":[{}]},"mark":{"type":"text","text":"SMA (200,0)","fill":"#ffffff","fontWeight":"bold","fontSize":11,"align":"left","baseline":"middle"},
 "encoding":{"x":{"datum":{"year":2019,"month":9,"date":27,"hours":4,"minutes":30},"type":"temporal","title":null},"y":{"datum":0.32886,"type":"quantitative","title":null}}},
{"data":{"values":[{}]},"mark":{"type":"point","shape":"triangle-left","filled":true,"size":30,"color":"#2c4c7c","opacity":1},
 "encoding":{"x":{"datum":{"year":2019,"month":11,"date":8,"hours":9},"type":"temporal","title":null},"y":{"datum":0.2298,"type":"quantitative","title":null}}},
{"data":{"values":[{}]},"mark":{"type":"rect","fill":"#2c4c7c"},
 "encoding":{"x":{"datum":{"year":2019,"month":11,"date":8,"hours":10,"minutes":15},"type":"temporal","title":null},"x2":{"datum":{"year":2019,"month":11,"date":10,"hours":1,"minutes":50}},
  "y":{"datum":0.23214,"type":"quantitative","title":null},"y2":{"datum":0.22427}}},
{"data":{"values":[{}]},"mark":{"type":"text","text":"0.2298","fill":"#ffffff","fontWeight":"bold","fontSize":10.5,"align":"center","baseline":"middle"},
 "encoding":{"x":{"datum":{"year":2019,"month":11,"date":9,"hours":6},"type":"temporal","title":null},"y":{"datum":0.2282,"type":"quantitative","title":null}}}
]
},
{
"width":1088,"height":48,
"layer":[
{"data":{"values":[{}]},"mark":{"type":"rect","fill":"#7ef87e"},
 "encoding":{
  "x":{"datum":{"year":2019,"month":9,"date":26,"hours":12,"minutes":30},"type":"temporal","title":null,
   "scale":{"domain":[{"year":2019,"month":9,"date":26,"hours":12,"minutes":30},{"year":2019,"month":11,"date":8,"hours":6,"minutes":30}]},
   "axis":{"values":[
     {"year":2019,"month":9,"date":26,"hours":22},{"year":2019,"month":9,"date":27,"hours":20,"minutes":30},{"year":2019,"month":9,"date":29,"hours":2,"minutes":45},
     {"year":2019,"month":10,"date":1},{"year":2019,"month":10,"date":2},{"year":2019,"month":10,"date":3},{"year":2019,"month":10,"date":4},{"year":2019,"month":10,"date":5},
     {"year":2019,"month":10,"date":6},{"year":2019,"month":10,"date":7},{"year":2019,"month":10,"date":8},{"year":2019,"month":10,"date":9},{"year":2019,"month":10,"date":10},
     {"year":2019,"month":10,"date":11},{"year":2019,"month":10,"date":12},{"year":2019,"month":10,"date":13},{"year":2019,"month":10,"date":14},{"year":2019,"month":10,"date":15},
     {"year":2019,"month":10,"date":16},{"year":2019,"month":10,"date":17},{"year":2019,"month":10,"date":18},{"year":2019,"month":10,"date":19},{"year":2019,"month":10,"date":20},
     {"year":2019,"month":10,"date":21},{"year":2019,"month":10,"date":22},{"year":2019,"month":10,"date":23},{"year":2019,"month":10,"date":24},{"year":2019,"month":10,"date":25},
     {"year":2019,"month":10,"date":26},{"year":2019,"month":10,"date":27},{"year":2019,"month":10,"date":28},{"year":2019,"month":10,"date":29},{"year":2019,"month":10,"date":30},
     {"year":2019,"month":10,"date":31},{"year":2019,"month":11,"date":1},{"year":2019,"month":11,"date":2},{"year":2019,"month":11,"date":3},{"year":2019,"month":11,"date":4},
     {"year":2019,"month":11,"date":5},{"year":2019,"month":11,"date":6},{"year":2019,"month":11,"date":7},{"year":2019,"month":11,"date":8}],
    "tickCount":100,
    "labelExpr":"(month(datum.value) == 8 && date(datum.value) == 26) ? 'Sep' : date(datum.value) == 1 ? timeFormat(datum.value, '%b') : '' + date(datum.value)",
    "grid":true,"gridColor":"#dedede","gridOpacity":{"condition":{"test":"date(datum.value) == 1","value":1},"value":0},
    "domain":false,"tickSize":4,"tickColor":"#a0a0a0","labelColor":"#666666","labelFontSize":11,"labelPadding":2,"labelOverlap":false,"title":null}},
  "x2":{"datum":{"year":2019,"month":11,"date":3,"hours":3}},
  "y":{"datum":100,"type":"quantitative","title":null,
   "scale":{"domain":[-3,107.6],"nice":false,"zero":false},
   "axis":{"orient":"right","values":[0,50],"tickCount":10,"format":".4f","grid":true,"gridColor":"#e0e0e0","domain":false,"tickSize":4,"tickColor":"#a0a0a0","labelColor":"#666666","labelFontSize":10,"labelPadding":3,"labelOverlap":false,"title":null}},
  "y2":{"datum":70}
 }},
{"data":{"values":[{}]},"mark":{"type":"rect","fill":"#fb7f7f"},
 "encoding":{"x":{"datum":{"year":2019,"month":9,"date":26,"hours":12,"minutes":30},"type":"temporal","title":null},"x2":{"datum":{"year":2019,"month":11,"date":3,"hours":3}},
  "y":{"datum":30,"type":"quantitative","title":null},"y2":{"datum":0}}},
{"data":{"values":[{}]},"mark":{"type":"rule","color":"#222222","strokeDash":[2,2],"strokeWidth":1},
 "encoding":{"x":{"datum":{"year":2019,"month":9,"date":26,"hours":12,"minutes":30},"type":"temporal","title":null},"x2":{"datum":{"year":2019,"month":11,"date":3,"hours":3}},
  "y":{"datum":70,"type":"quantitative","title":null}}},
{"data":{"values":[{}]},"mark":{"type":"rule","color":"#222222","strokeDash":[2,2],"strokeWidth":1},
 "encoding":{"x":{"datum":{"year":2019,"month":9,"date":26,"hours":12,"minutes":30},"type":"temporal","title":null},"x2":{"datum":{"year":2019,"month":11,"date":3,"hours":3}},
  "y":{"datum":30,"type":"quantitative","title":null}}},
{"data":{"values":[{}]},"mark":{"type":"rule","color":"#111111","strokeWidth":1},
 "encoding":{"x":{"datum":{"year":2019,"month":11,"date":3,"hours":3},"type":"temporal","title":null},
  "y":{"datum":100,"type":"quantitative","title":null},"y2":{"datum":70}}},
{"data":{"values":[{}]},"mark":{"type":"rule","color":"#111111","strokeWidth":1},
 "encoding":{"x":{"datum":{"year":2019,"month":11,"date":3,"hours":3},"type":"temporal","title":null},
  "y":{"datum":30,"type":"quantitative","title":null},"y2":{"datum":0}}},
{"data":{"name":"rsi"},"mark":{"type":"line","color":"#9fb2ff","strokeWidth":2.5,"opacity":0.5},
 "encoding":{"x":{"field":"t","type":"temporal","title":null},"y":{"field":"r","type":"quantitative","title":null}}},
{"data":{"name":"rsi"},"mark":{"type":"line","color":"#2346ff","strokeWidth":1},
 "encoding":{"x":{"field":"t","type":"temporal","title":null},"y":{"field":"r","type":"quantitative","title":null}}},
{"data":{"values":[{}]},"mark":{"type":"rect","fill":"#333333","opacity":0.78},
 "encoding":{"x":{"datum":{"year":2019,"month":9,"date":26,"hours":17,"minutes":10},"type":"temporal","title":null},"x2":{"datum":{"year":2019,"month":10,"date":1,"hours":1}},
  "y":{"datum":95.5,"type":"quantitative","title":null},"y2":{"datum":45}}},
{"data":{"values":[{}]},"mark":{"type":"rect","fill":"#18e018"},
 "encoding":{"x":{"datum":{"year":2019,"month":9,"date":26,"hours":17,"minutes":10},"type":"temporal","title":null},"x2":{"datum":{"year":2019,"month":9,"date":26,"hours":20}},
  "y":{"datum":95.5,"type":"quantitative","title":null},"y2":{"datum":45}}},
{"data":{"values":[{}]},"mark":{"type":"text","text":"RSI (14,70,30,1)","fill":"#ffffff","fontWeight":"bold","fontSize":11,"align":"left","baseline":"middle"},
 "encoding":{"x":{"datum":{"year":2019,"month":9,"date":27,"hours":4,"minutes":30},"type":"temporal","title":null},"y":{"datum":69,"type":"quantitative","title":null}}}
]
}
]
}
